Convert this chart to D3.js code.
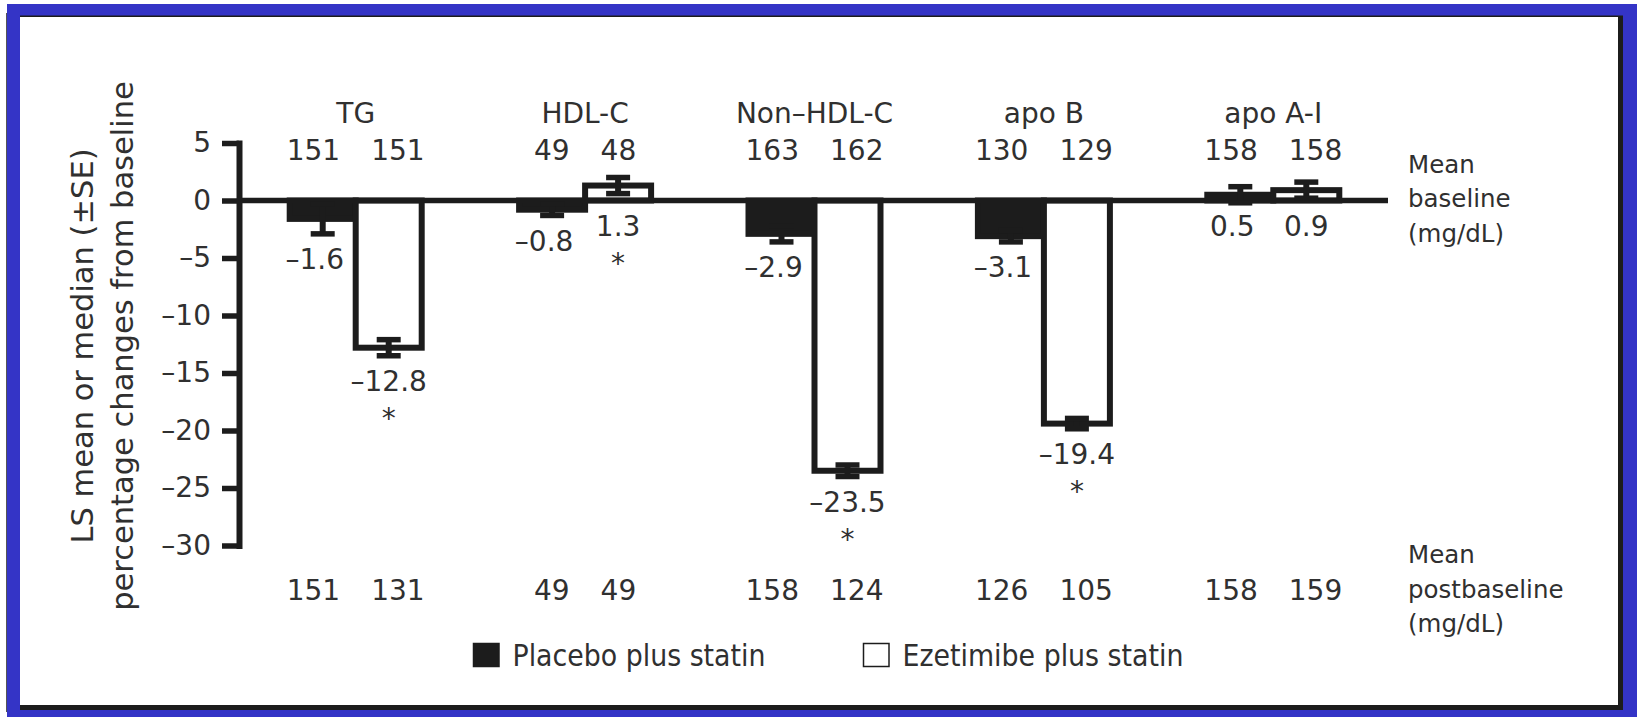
<!DOCTYPE html>
<html>
<head>
<meta charset="utf-8">
<script src="https://cdn.jsdelivr.net/npm/d3@7"></script>
<style>
  html, body { margin: 0; padding: 0; background: #fff; }
  svg { display: block; }
  text { font-family: "DejaVu Sans", "Liberation Sans", sans-serif; fill: #303030; }
</style>
</head>
<body>
<svg id="chart" width="1637" height="717"></svg>
<script>
// Lipid parameters and LS mean / median percentage changes from baseline
const categories = ["TG", "HDL-C", "Non\u2013HDL-C", "apo B", "apo A-I"];
const seriesNames = ["Placebo plus statin", "Ezetimibe plus statin"];
const placeboChange = [-1.6, -0.8, -2.9, -3.1, 0.5];
const ezetimibeChange = [-12.8, 1.3, -23.5, -19.4, 0.9];
const placeboSE = [1.3, 0.5, 0.7, 0.5, 0.7];
const ezetimibeSE = [0.7, 0.7, 0.5, 0.45, 0.7];
// Mean baseline and postbaseline values (mg/dL)
const placeboBaseline = [151, 49, 163, 130, 158];
const ezetimibeBaseline = [151, 48, 162, 129, 158];
const placeboPost = [151, 49, 158, 126, 158];
const ezetimibePost = [131, 49, 124, 105, 159];
// Significant difference versus placebo plus statin
const ezetimibeSignificant = [true, true, true, true, false];
const yTicks = [5, 0, -5, -10, -15, -20, -25, -30];

const svg = d3.select("#chart");
const ink = "#1c1c1c";

// ---- page frame ----
svg.append("rect").attr("x", 7).attr("y", 4).attr("width", 1630).attr("height", 713).attr("fill", "#3434c6");
svg.append("line").attr("x1", 6.5).attr("x2", 6.5).attr("y1", 13).attr("y2", 712)
  .attr("stroke", "#555").attr("stroke-width", 1);
svg.append("rect").attr("x", 20).attr("y", 15.5).attr("width", 1603).attr("height", 694.5).attr("fill", ink);
svg.append("rect").attr("x", 20).attr("y", 17).attr("width", 1598).attr("height", 688).attr("fill", "#fff");

// ---- scales ----
const x = d3.scaleBand().domain(categories).range([241, 1388]).padding(0);
const xs = d3.scaleBand().domain(seriesNames).range([-66, 66]).padding(0);
const y = d3.scaleLinear().domain([5, -30]).range([143, 545.5]);

const fmt = v => (v < 0 ? "\u2013" : "") + Math.abs(v).toFixed(1);
const groupCenter = c => x(c) + x.bandwidth() / 2;

const rows = [];
categories.forEach((c, i) => {
  rows.push({ cat: c, s: seriesNames[0], v: placeboChange[i], se: placeboSE[i], fill: ink, sig: false, shift: -8 });
  rows.push({ cat: c, s: seriesNames[1], v: ezetimibeChange[i], se: ezetimibeSE[i], fill: "#fff", sig: ezetimibeSignificant[i], shift: 0 });
});
const barCenter = d => groupCenter(d.cat) + xs(d.s) + xs.bandwidth() / 2;

// ---- bars ----
svg.append("g").selectAll("rect").data(rows).join("rect")
  .attr("x", d => groupCenter(d.cat) + xs(d.s))
  .attr("width", xs.bandwidth())
  .attr("y", d => Math.min(y(d.v), y(0)))
  .attr("height", d => Math.abs(y(d.v) - y(0)))
  .attr("fill", d => d.fill)
  .attr("stroke", ink)
  .attr("stroke-width", 6);

// ---- y axis ----
const yAxis = d3.axisLeft(y)
  .tickValues(yTicks)
  .tickSize(17)
  .tickSizeOuter(0)
  .tickPadding(11)
  .tickFormat(v => (v < 0 ? "\u2013" : "") + Math.abs(v));
const gy = svg.append("g").attr("transform", "translate(239,0)").call(yAxis);
gy.select(".domain").attr("stroke", ink).attr("stroke-width", 6).attr("stroke-linecap", "square");
gy.selectAll(".tick line").attr("stroke", ink).attr("stroke-width", 5.5);
gy.selectAll(".tick text")
  .attr("fill", "#303030")
  .style("font-family", "'DejaVu Sans', sans-serif")
  .style("font-size", "28px");

// ---- zero line ----
svg.append("line")
  .attr("x1", 239).attr("x2", x.range()[1])
  .attr("y1", y(0)).attr("y2", y(0))
  .attr("stroke", ink).attr("stroke-width", 5.5);

// ---- error bars (±SE) ----
const eb = svg.append("g").selectAll("g").data(rows).join("g");
eb.append("line")
  .attr("x1", barCenter).attr("x2", barCenter)
  .attr("y1", d => y(d.v + d.se)).attr("y2", d => y(d.v - d.se))
  .attr("stroke", ink).attr("stroke-width", 6);
[1, -1].forEach(sign => {
  eb.append("line")
    .attr("x1", d => barCenter(d) - 12).attr("x2", d => barCenter(d) + 12)
    .attr("y1", d => y(d.v + sign * d.se)).attr("y2", d => y(d.v + sign * d.se))
    .attr("stroke", ink).attr("stroke-width", 5.5);
});

// ---- value labels ----
const labelBaseline = d => d.v < 0 ? y(d.v - d.se) + 35.5 : y(0) + 35.5;
svg.append("g").selectAll("text").data(rows).join("text")
  .attr("x", d => barCenter(d) + d.shift)
  .attr("y", labelBaseline)
  .attr("text-anchor", "middle")
  .style("font-size", "28px")
  .text(d => fmt(d.v));

svg.append("g").selectAll("text").data(rows.filter(d => d.sig)).join("text")
  .attr("x", barCenter)
  .attr("y", d => labelBaseline(d) + 37)
  .attr("text-anchor", "middle")
  .style("font-size", "28px")
  .text("*");

// ---- category labels and mean values ----
svg.append("g").selectAll("text").data(categories).join("text")
  .attr("x", groupCenter).attr("y", 123)
  .attr("text-anchor", "middle").style("font-size", "28px")
  .text(d => d);

// each pair of means sits either side of the group centre with a fixed gap
function numberPair(left, right, baseline) {
  const g = svg.append("g").style("font-size", "28px");
  g.selectAll("text.l").data(left).join("text").attr("class", "l")
    .attr("x", (d, i) => groupCenter(categories[i]) - 15.5)
    .attr("y", baseline).attr("text-anchor", "end").text(d => d);
  g.selectAll("text.r").data(right).join("text").attr("class", "r")
    .attr("x", (d, i) => groupCenter(categories[i]) + 15.5)
    .attr("y", baseline).attr("text-anchor", "start").text(d => d);
}
numberPair(placeboBaseline, ezetimibeBaseline, 160);
numberPair(placeboPost, ezetimibePost, 600);

// ---- right-hand row captions ----
function caption(lines, top) {
  svg.append("g").selectAll("text").data(lines).join("text")
    .attr("x", 1408).attr("y", (d, i) => top + i * 34.5)
    .style("font-size", "24.5px")
    .text(d => d);
}
caption(["Mean", "baseline", "(mg/dL)"], 172.5);
caption(["Mean", "postbaseline", "(mg/dL)"], 563);

// ---- y axis title ----
const titleLines = ["LS mean or median (\u00b1SE)", "percentage changes from baseline"];
svg.append("g").selectAll("text").data(titleLines).join("text")
  .attr("transform", (d, i) => `translate(${93 + i * 40},346) rotate(-90)`)
  .attr("text-anchor", "middle")
  .style("font-size", "30.5px")
  .text(d => d);

// ---- legend ----
const legend = svg.append("g");
const legendItems = [
  { name: seriesNames[0], fill: ink, x: 473.5, width: 253 },
  { name: seriesNames[1], fill: "#fff", x: 863.5, width: 281 }
];
legendItems.forEach(it => {
  legend.append("rect")
    .attr("x", it.x).attr("y", 643.5).attr("width", 25.5).attr("height", 23)
    .attr("fill", it.fill).attr("stroke", ink).attr("stroke-width", 1.5);
  legend.append("text")
    .attr("x", it.x + 39).attr("y", 666)
    .style("font-size", "30px")
    .attr("textLength", it.width).attr("lengthAdjust", "spacingAndGlyphs")
    .text(it.name);
});
</script>
</body>
</html>
